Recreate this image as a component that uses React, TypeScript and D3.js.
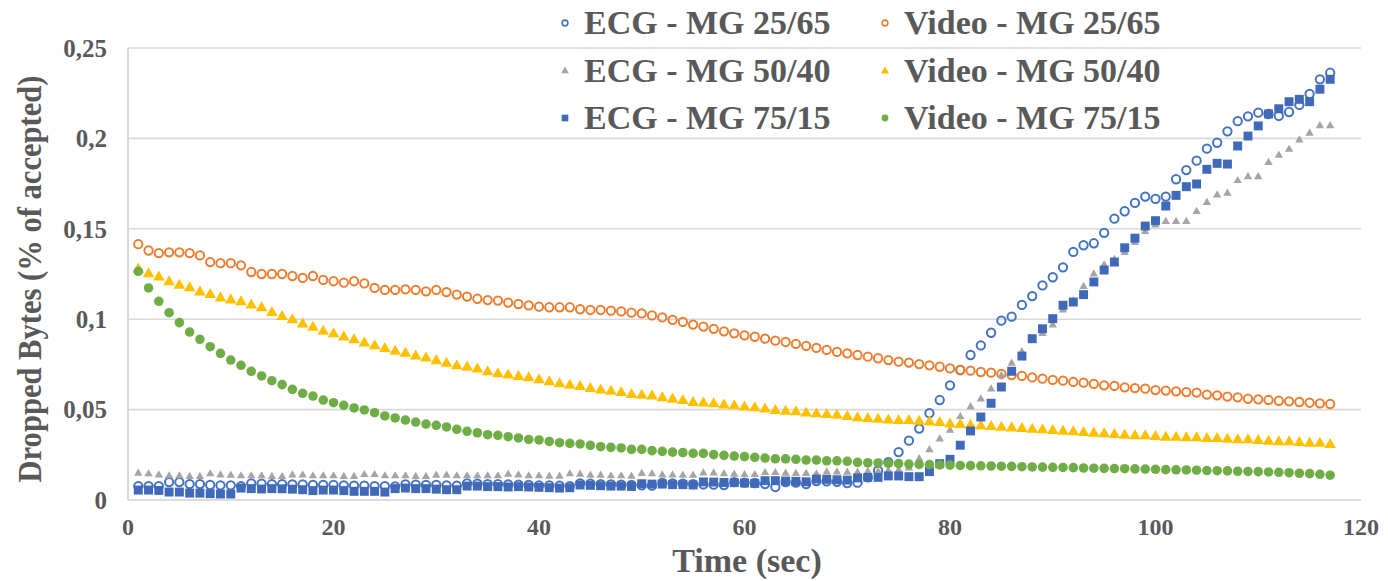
import React from 'react';
import * as d3 from 'd3';

// time axis (seconds)
const seconds = d3.range(1, 118);

const ecgMG2565 = [
  0.0077, 0.0077, 0.0077, 0.0099, 0.0099, 0.0088, 0.0088, 0.0083, 0.0081, 0.0081,
  0.0077, 0.0092, 0.009, 0.0088, 0.0088, 0.0086, 0.0086, 0.0084, 0.0083, 0.0083,
  0.0081, 0.008, 0.0079, 0.0077, 0.0077, 0.0075, 0.0086, 0.0085, 0.0083, 0.0083,
  0.0081, 0.008, 0.0092, 0.009, 0.0088, 0.0088, 0.0086, 0.0085, 0.0083, 0.0081,
  0.0081, 0.0079, 0.0077, 0.0092, 0.009, 0.0088, 0.0086, 0.0085, 0.0083, 0.0081,
  0.0079, 0.0094, 0.0092, 0.009, 0.0088, 0.0086, 0.0085, 0.0083, 0.0099, 0.0096,
  0.0094, 0.0088, 0.0072, 0.0099, 0.0096, 0.0088, 0.0105, 0.0103, 0.0101, 0.0094,
  0.0096, 0.0125, 0.0162, 0.021, 0.0265, 0.0328, 0.0395, 0.048, 0.0553, 0.0634,
  0.0719, 0.0802, 0.0855, 0.0925, 0.0992, 0.1014, 0.1079, 0.1128, 0.1187, 0.1232,
  0.1287, 0.1372, 0.1409, 0.142, 0.1478, 0.1556, 0.1597, 0.1643, 0.1678, 0.1665,
  0.1678, 0.1774, 0.1825, 0.1877, 0.1943, 0.1976, 0.2039, 0.2095, 0.2122, 0.2142,
  0.2135, 0.2124, 0.2146, 0.2185, 0.2246, 0.2327, 0.2363,
];

const videoMG2565 = [
  0.1415, 0.138, 0.1365, 0.137, 0.137, 0.1365, 0.1353, 0.1316, 0.131, 0.131,
  0.1298, 0.1261, 0.125, 0.125, 0.125, 0.1239, 0.1228, 0.1239, 0.1217, 0.121,
  0.1202, 0.121, 0.1198, 0.1173, 0.1162, 0.1162, 0.1165, 0.1162, 0.1154, 0.1162,
  0.115, 0.1136, 0.1125, 0.1113, 0.1106, 0.1103, 0.1092, 0.1084, 0.1077, 0.1069,
  0.1066, 0.1066, 0.1066, 0.1055, 0.1051, 0.1051, 0.1047, 0.1043, 0.1036, 0.1032,
  0.1021, 0.101, 0.0996, 0.0985, 0.097, 0.0959, 0.0947, 0.0933, 0.0922, 0.0911,
  0.0903, 0.0892, 0.0881, 0.0874, 0.0863, 0.0852, 0.0841, 0.083, 0.0819, 0.0811,
  0.0802, 0.0793, 0.0784, 0.0774, 0.0765, 0.076, 0.0752, 0.0745, 0.0737, 0.0728,
  0.0719, 0.0715, 0.0708, 0.0704, 0.0697, 0.0691, 0.0686, 0.0678, 0.0671, 0.0664,
  0.066, 0.0653, 0.0649, 0.0642, 0.0634, 0.0631, 0.0623, 0.0619, 0.0616, 0.0608,
  0.0605, 0.0601, 0.0597, 0.0594, 0.0583, 0.0579, 0.0572, 0.0568, 0.056, 0.0557,
  0.0553, 0.0549, 0.0546, 0.0542, 0.0538, 0.0535, 0.0531,
];

const ecgMG5040 = [
  0.0147, 0.0144, 0.0138, 0.0133, 0.0133, 0.0129, 0.0129, 0.0144, 0.0138, 0.0136,
  0.0133, 0.0133, 0.0133, 0.0129, 0.0129, 0.0138, 0.0138, 0.0133, 0.0133, 0.0133,
  0.0129, 0.0129, 0.014, 0.014, 0.0133, 0.0133, 0.0133, 0.0129, 0.0129, 0.0136,
  0.0136, 0.0133, 0.0133, 0.0133, 0.0133, 0.0133, 0.0142, 0.0138, 0.0133, 0.0133,
  0.0131, 0.0131, 0.0144, 0.0142, 0.0136, 0.0136, 0.0133, 0.0133, 0.0131, 0.0146,
  0.0144, 0.0138, 0.0138, 0.0136, 0.0136, 0.0149, 0.0149, 0.0144, 0.0142, 0.014,
  0.014, 0.0151, 0.0151, 0.0147, 0.0146, 0.0146, 0.0144, 0.0155, 0.0155, 0.0153,
  0.0153, 0.0157, 0.0157, 0.0162, 0.0166, 0.0177, 0.0228, 0.0277, 0.0337, 0.0385,
  0.0461, 0.0515, 0.0558, 0.0614, 0.0688, 0.0756, 0.082, 0.0885, 0.092, 0.0968,
  0.105, 0.11, 0.118, 0.125, 0.13, 0.133, 0.1368, 0.1423, 0.1484, 0.1521,
  0.154, 0.154, 0.154, 0.1595, 0.1645, 0.1687, 0.1696, 0.1766, 0.1788, 0.1788,
  0.1866, 0.1906, 0.194, 0.1991, 0.2028, 0.2069, 0.2069,
];

const videoMG5040 = [
  0.1276, 0.125, 0.1232, 0.1206, 0.1187, 0.1173, 0.115, 0.1136, 0.1117, 0.1106,
  0.1095, 0.1077, 0.1062, 0.1036, 0.1014, 0.0996, 0.0973, 0.0955, 0.0933, 0.0918,
  0.09, 0.0885, 0.0867, 0.0852, 0.0837, 0.0822, 0.0811, 0.0796, 0.0785, 0.077,
  0.0756, 0.0741, 0.0734, 0.0723, 0.0708, 0.0697, 0.069, 0.0682, 0.0675, 0.0664,
  0.0653, 0.0642, 0.0634, 0.0627, 0.0616, 0.0608, 0.0601, 0.0594, 0.0583, 0.0579,
  0.0575, 0.0564, 0.0557, 0.0549, 0.0538, 0.0535, 0.0531, 0.0524, 0.052, 0.0513,
  0.0509, 0.0502, 0.0494, 0.049, 0.0487, 0.048, 0.0476, 0.0472, 0.0468, 0.0461,
  0.0454, 0.045, 0.0446, 0.0442, 0.0439, 0.0439, 0.0435, 0.0431, 0.0428, 0.042,
  0.0417, 0.0413, 0.0409, 0.0406, 0.0402, 0.0398, 0.0394, 0.0391, 0.0387, 0.0383,
  0.0379, 0.0376, 0.0372, 0.0369, 0.0365, 0.0361, 0.0357, 0.0354, 0.0354, 0.035,
  0.0346, 0.0346, 0.0343, 0.0343, 0.0339, 0.0339, 0.0335, 0.0332, 0.0332, 0.0328,
  0.0324, 0.0321, 0.0321, 0.0317, 0.0313, 0.0313, 0.0306,
];

const ecgMG7515 = [
  0.0055, 0.0055, 0.0053, 0.0044, 0.0044, 0.0038, 0.0038, 0.0035, 0.0033, 0.0033,
  0.0066, 0.0063, 0.0061, 0.0063, 0.0062, 0.006, 0.0057, 0.0052, 0.0055, 0.0055,
  0.0052, 0.0048, 0.0048, 0.0048, 0.0044, 0.0063, 0.0066, 0.0063, 0.0063, 0.006,
  0.0057, 0.0057, 0.0077, 0.0077, 0.0074, 0.0074, 0.0072, 0.0074, 0.0072, 0.007,
  0.0068, 0.0066, 0.0068, 0.0083, 0.0081, 0.0079, 0.0077, 0.0077, 0.0075, 0.009,
  0.0088, 0.0088, 0.0085, 0.0085, 0.0083, 0.01, 0.0099, 0.0097, 0.0096, 0.0094,
  0.0092, 0.0107, 0.0107, 0.0105, 0.0103, 0.0101, 0.0116, 0.0114, 0.0112, 0.011,
  0.0122, 0.0125, 0.0125, 0.0133, 0.0133, 0.0129, 0.0129, 0.0157, 0.0201, 0.0225,
  0.0303, 0.0382, 0.0459, 0.0535, 0.0625, 0.0712, 0.0796, 0.0892, 0.0947, 0.1003,
  0.1077, 0.1095, 0.1136, 0.1206, 0.1272, 0.1316, 0.1395, 0.1448, 0.1515, 0.1545,
  0.1626, 0.1685, 0.1733, 0.1748, 0.1829, 0.1862, 0.1858, 0.1958, 0.2013, 0.2069,
  0.2135, 0.2164, 0.2203, 0.2216, 0.2203, 0.2272, 0.2327,
];

const videoMG7515 = [
  0.1265, 0.1173, 0.1099, 0.1036, 0.0981, 0.0929, 0.0889, 0.0848, 0.0811, 0.0774,
  0.0745, 0.0712, 0.0686, 0.066, 0.0638, 0.0612, 0.059, 0.0575, 0.0553, 0.0538,
  0.0524, 0.0509, 0.0498, 0.0483, 0.0465, 0.0454, 0.0442, 0.0431, 0.042, 0.0413,
  0.0404, 0.0391, 0.038, 0.0372, 0.0361, 0.0358, 0.035, 0.0343, 0.0335, 0.0332,
  0.0324, 0.0317, 0.0313, 0.031, 0.0302, 0.0295, 0.0291, 0.0288, 0.028, 0.028,
  0.0273, 0.0269, 0.0265, 0.0262, 0.0258, 0.0258, 0.0251, 0.0247, 0.0243, 0.024,
  0.0236, 0.0232, 0.0228, 0.0228, 0.0225, 0.0221, 0.0221, 0.0217, 0.0217, 0.0214,
  0.0208, 0.0206, 0.0205, 0.0203, 0.0201, 0.0199, 0.0197, 0.0196, 0.0194, 0.0193,
  0.0191, 0.019, 0.0189, 0.0188, 0.0187, 0.0186, 0.0184, 0.0183, 0.0182, 0.0181,
  0.018, 0.0179, 0.0177, 0.0176, 0.0175, 0.0174, 0.0173, 0.0172, 0.0171, 0.017,
  0.0168, 0.0167, 0.0166, 0.0165, 0.0163, 0.0162, 0.0161, 0.0159, 0.0158, 0.0157,
  0.0155, 0.0153, 0.0151, 0.0148, 0.0146, 0.0142, 0.0137,
];

const yTicks = [0, 0.05, 0.1, 0.15, 0.2, 0.25];
const xTicks = [0, 20, 40, 60, 80, 100, 120];

// drawing order = legend order (row by row)
const series = [
  { name: 'ECG - MG 25/65', values: ecgMG2565, color: '#4472C4', shape: 'ring' },
  { name: 'Video - MG 25/65', values: videoMG2565, color: '#ED7D31', shape: 'ring' },
  { name: 'ECG - MG 50/40', values: ecgMG5040, color: '#A5A5A5', shape: 'smallTri' },
  { name: 'Video - MG 50/40', values: videoMG5040, color: '#FFC000', shape: 'tri' },
  { name: 'ECG - MG 75/15', values: ecgMG7515, color: '#4169BA', shape: 'square' },
  { name: 'Video - MG 75/15', values: videoMG7515, color: '#70AD47', shape: 'dot' },
];

const FONT = '"Liberation Serif", "Times New Roman", serif';
const TEXT = '#595959';

const markerPath = (shape, legend = false) => {
  if (legend) {
    if (shape === 'ring') return d3.symbol().type(d3.symbolCircle).size(26)();
    if (shape === 'smallTri') return d3.symbol().type(d3.symbolTriangle).size(26)();
    if (shape === 'tri') return d3.symbol().type(d3.symbolTriangle).size(30)();
    if (shape === 'square') return d3.symbol().type(d3.symbolSquare).size(44)();
    return d3.symbol().type(d3.symbolCircle).size(36)();
  }
  if (shape === 'ring') return d3.symbol().type(d3.symbolCircle).size(54)();
  if (shape === 'smallTri') return d3.symbol().type(d3.symbolTriangle).size(30)();
  if (shape === 'tri') return d3.symbol().type(d3.symbolTriangle).size(58)();
  if (shape === 'square') return d3.symbol().type(d3.symbolSquare).size(80)();
  return d3.symbol().type(d3.symbolCircle).size(72)();
};

const styleMarker = (sel, s, legend = false) => {
  if (s.shape === 'ring') {
    sel.attr('fill', 'none').attr('stroke', s.color).attr('stroke-width', legend ? 1.6 : 2);
  } else {
    sel.attr('fill', s.color).attr('stroke', 'none');
  }
};

const DroppedBytesChart = () => {
  const ref = React.useRef(null);
  React.useEffect(() => {
    const el = ref.current;
    if (!el) return;
    d3.select(el).selectAll('*').remove();

    const width = 1388,
      height = 581;

    const svg = d3.select(el)
      .append('svg')
      .attr('width', width)
      .attr('height', height)
      .style('display', 'block')
      .style('background', '#fff');

    const x = d3.scaleLinear().domain([0, 120]).range([128, 1361]);
    const y = d3.scaleLinear().domain([0, 0.25]).range([500, 48]);

    const fmt = d3.formatLocale({ decimal: ',', thousands: '.', grouping: [3], currency: ['', ''] }).format('~g');

    // gridlines
    svg.selectAll('.grid')
      .data(yTicks.filter(t => t > 0))
      .join('line')
      .attr('x1', x(0))
      .attr('x2', x(120))
      .attr('y1', d => y(d))
      .attr('y2', d => y(d))
      .attr('stroke', '#D9D9D9')
      .attr('stroke-width', 1.6);

    // axis lines
    svg.append('line')
      .attr('x1', x(0)).attr('x2', x(0))
      .attr('y1', y(0.25)).attr('y2', y(0))
      .attr('stroke', '#D0D0D0').attr('stroke-width', 1.6);
    svg.append('line')
      .attr('x1', x(0)).attr('x2', x(120))
      .attr('y1', y(0)).attr('y2', y(0))
      .attr('stroke', '#D0D0D0').attr('stroke-width', 1.6);

    // tick labels
    svg.selectAll('.ytick')
      .data(yTicks)
      .join('text')
      .attr('x', 107)
      .attr('y', d => y(d))
      .attr('dy', '0.35em')
      .attr('text-anchor', 'end')
      .style('font-family', FONT)
      .style('font-weight', 'bold')
      .style('font-size', '25px')
      .attr('fill', TEXT)
      .text(d => fmt(d));

    svg.selectAll('.xtick')
      .data(xTicks)
      .join('text')
      .attr('x', d => x(d))
      .attr('y', 535)
      .attr('text-anchor', 'middle')
      .style('font-family', FONT)
      .style('font-weight', 'bold')
      .style('font-size', '24px')
      .attr('fill', TEXT)
      .text(d => d);

    // axis titles
    svg.append('text')
      .attr('x', 747)
      .attr('y', 572)
      .attr('text-anchor', 'middle')
      .style('font-family', FONT)
      .style('font-weight', 'bold')
      .style('font-size', '34px')
      .attr('fill', TEXT)
      .text('Time (sec)');

    svg.append('text')
      .attr('transform', 'translate(41,279) rotate(-90)')
      .attr('text-anchor', 'middle')
      .attr('textLength', 407)
      .attr('lengthAdjust', 'spacingAndGlyphs')
      .style('font-family', FONT)
      .style('font-weight', 'bold')
      .style('font-size', '34px')
      .attr('fill', TEXT)
      .text('Dropped Bytes (% of accepted)');

    // series markers
    series.forEach(s => {
      const g = svg.append('g');
      const marks = g.selectAll('path')
        .data(s.values.map((v, i) => ({ t: seconds[i], v })))
        .join('path')
        .attr('d', markerPath(s.shape))
        .attr('transform', d => `translate(${x(d.t)},${y(d.v)})`);
      styleMarker(marks, s);
    });

    // legend, 2 columns x 3 rows
    const colX = [565, 885];
    const rowY = [23, 71, 118];
    series.forEach((s, i) => {
      const cx = colX[i % 2];
      const cy = rowY[Math.floor(i / 2)];
      const m = svg.append('path')
        .attr('d', markerPath(s.shape, true))
        .attr('transform', `translate(${cx},${cy})`);
      styleMarker(m, s, true);
      svg.append('text')
        .attr('x', cx + 19)
        .attr('y', cy + 11)
        .style('font-family', FONT)
        .style('font-weight', 'bold')
        .style('font-size', '34px')
        .attr('fill', TEXT)
        .text(s.name);
    });
  }, []);

  return <div ref={ref} style={{ position: 'absolute', left: 0, top: 0 }} />;
};

export default function App() {
  return <DroppedBytesChart />;
}
